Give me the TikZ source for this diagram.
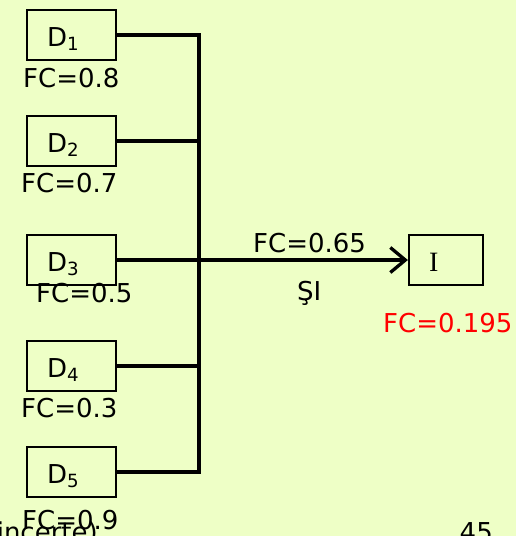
\documentclass[tikz,border=0pt]{standalone}
\usepackage{fontspec}
\setmainfont{DejaVu Sans}
\newfontfamily\serifI{Liberation Serif}
\usetikzlibrary{arrows.meta}
\definecolor{slidebg}{RGB}{238,255,198}
\newcommand{\dsub}[1]{\textsubscript{#1}}

\begin{document}
\begin{tikzpicture}[x=1pt,y=-1pt,
  dbox/.style={draw,line width=2.2pt,minimum width=89pt,minimum height=50pt,inner sep=0pt},
  dlab/.style={anchor=base west,inner sep=0pt,font=\fontsize{26}{30}\selectfont},
  wire/.style={line width=3.3pt}]
\fill[slidebg] (0,0) rectangle (516,536);
\clip (0,0) rectangle (516,536);

% premise boxes
\node[dbox] (d1) at (71.5,35) {};
\node[dbox] (d2) at (71.5,141) {};
\node[dbox] (d3) at (71.5,260) {};
\node[dbox] (d4) at (71.5,366) {};
\node[dbox] (d5) at (71.5,472) {};
\node[dbox,minimum width=74pt] (i) at (446,260) {};

\node[dlab] (d1t) at (47,46) {D\dsub{1}};
\node[dlab] (d2t) at (47,152) {D\dsub{2}};
\node[dlab] (d3t) at (47,271) {D\dsub{3}};
\node[dlab] (d4t) at (47,377) {D\dsub{4}};
\node[dlab] (d5t) at (47,483) {D\dsub{5}};
\node[dlab,font=\fontsize{28}{30}\serifI] (it) at (429,271) {I};

% certainty factors
\node[dlab] (f1) at (23,87) {FC=0.8};
\node[dlab] (f2) at (21,192) {FC=0.7};
\node[dlab] (f3) at (36,302) {FC=0.5};
\node[dlab] (f4) at (21,417) {FC=0.3};
\node[dlab] (f5) at (22,529) {FC=0.9};

% joining lines
\coordinate (jt) at (199,35);
\coordinate (jm) at (199,260);
\coordinate (jb) at (199,472);
\draw[wire] (d1.east) -- (jt) -- (jb) -- (d5.east);
\draw[wire] (d2.east) -- (d2.east -| jt);
\draw[wire] (d3.east) -- (jm);
\draw[wire] (d4.east) -- (d4.east -| jt);
\draw[wire,-{Straight Barb[length=15pt,width=25pt]}] (jm) -- (i.west);

\node[dlab] (rule) at (253,252) {FC=0.65};
\node[dlab] (si) at (297,300) {ŞI};
\node[dlab,text=red] (fres) at (383,332) {FC=0.195};

% slide text cut at the edge
\node[dlab,anchor=base east] (cut) at (98,541) {incerte)};
\node[dlab,anchor=base east] (pg) at (493,541) {45};
\end{tikzpicture}
\end{document}
